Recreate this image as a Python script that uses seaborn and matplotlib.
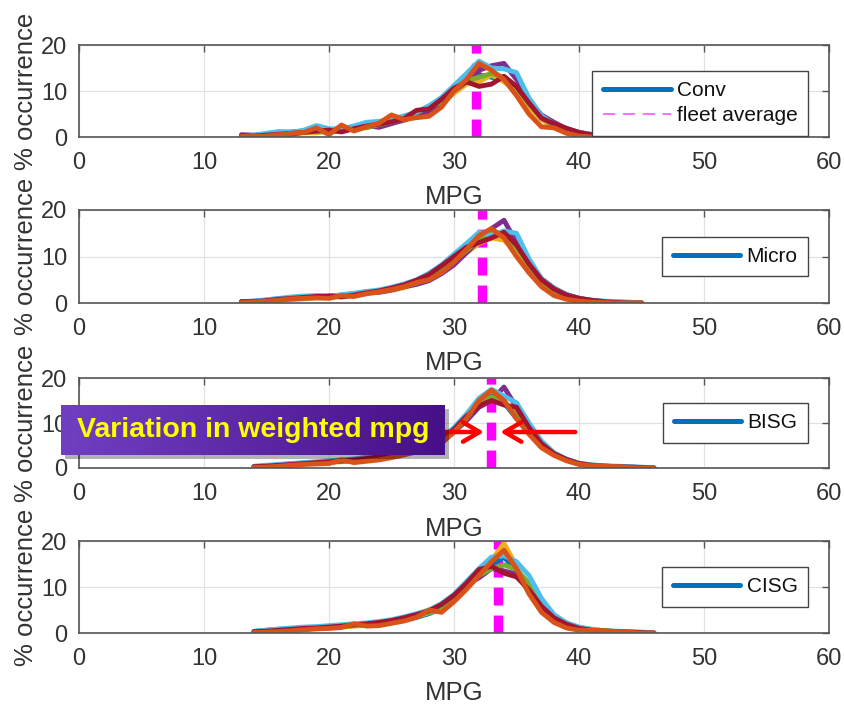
import numpy as np
import pandas as pd
import matplotlib
matplotlib.use('Agg')
import matplotlib.pyplot as plt
import seaborn as sns
from matplotlib.lines import Line2D
from matplotlib.patches import Rectangle

sns.set_style('white')
plt.rcParams['font.family'] = ['Liberation Sans', 'DejaVu Sans']

# ---------------- data ----------------
mpg_a = list(range(13, 46))   # panels 1-2
mpg_b = list(range(14, 47))   # panels 3-4

conv_runs = {
    'blue':    [0.2,0.3,0.6,1.0,1.1,1.3,1.6,1.5,1.9,2.2,2.8,2.6,3.2,4.0,4.8,6.0,7.8,10.5,12.5,13.5,13.0,12.5,10.5,7.0,4.2,2.6,1.5,0.8,0.4,0.2,0.1,0.0,0.0],
    'orange':  [0.1,0.1,0.2,0.5,0.8,1.0,2.0,0.5,2.6,1.3,2.2,3.0,4.8,3.8,4.2,4.5,6.5,10.0,12.5,16.0,14.5,12.5,9.0,5.0,2.2,2.0,0.8,0.2,0.0,0.0,0.0,0.0,0.0],
    'yellow':  [0.1,0.2,0.3,0.6,0.5,0.9,0.9,1.3,1.5,1.7,2.2,2.5,3.1,3.6,4.6,5.4,7.2,9.5,11.5,12.0,13.5,12.0,10.0,6.5,3.8,2.0,1.0,0.5,0.2,0.1,0.0,0.0,0.0],
    'purple':  [0.5,0.4,0.5,0.8,0.6,1.1,1.4,1.1,1.5,2.0,2.5,2.1,2.9,3.7,4.5,5.6,7.4,10.0,12.0,14.5,15.5,16.0,12.5,8.0,4.8,3.2,1.8,1.0,0.5,0.3,0.1,0.0,0.0],
    'green':   [0.2,0.3,0.4,0.7,0.9,1.1,1.3,1.0,1.6,2.0,2.0,2.7,3.3,4.0,5.3,6.6,7.6,10.2,12.2,13.0,13.8,13.0,10.8,7.2,4.3,2.4,1.3,0.6,0.3,0.3,0.1,0.0,0.0],
    'cyan':    [0.1,0.4,0.8,1.2,1.0,1.5,2.5,1.8,1.7,2.4,3.2,3.4,3.8,4.6,5.4,6.8,8.6,11.2,13.8,16.5,15.0,14.8,14.0,8.5,4.6,2.8,1.7,1.0,0.6,0.3,0.2,0.1,0.0],
    'darkred': [0.3,0.2,0.4,0.6,0.8,1.0,1.3,1.5,1.1,1.8,2.4,2.8,3.3,4.0,5.8,6.1,8.2,10.6,12.0,11.0,11.5,13.2,11.0,7.4,4.1,2.9,1.9,1.0,0.5,0.2,0.1,0.0,0.0],
}
micro_runs = {
    'blue':    [0.2,0.3,0.5,0.8,1.0,1.2,1.3,1.5,1.6,1.9,2.2,2.5,3.0,3.6,4.4,5.4,7.0,9.0,11.5,14.0,15.0,14.5,12.0,8.5,5.2,3.2,1.8,1.0,0.5,0.3,0.2,0.1,0.0],
    'orange':  [0.1,0.2,0.4,0.6,0.9,1.0,1.1,1.0,1.6,1.4,2.0,2.4,2.9,3.5,4.4,5.0,6.5,8.8,11.5,14.5,16.0,14.0,10.0,6.5,3.5,1.6,0.8,0.4,0.2,0.1,0.0,0.0,0.0],
    'yellow':  [0.1,0.2,0.3,0.5,0.7,0.9,1.1,1.2,1.4,1.6,2.0,2.3,2.7,3.3,4.1,5.2,6.8,8.7,10.8,12.8,14.0,13.5,11.0,7.5,4.3,2.4,1.2,0.6,0.3,0.1,0.0,0.0,0.0],
    'purple':  [0.3,0.4,0.6,0.9,1.1,1.3,1.5,1.4,1.7,2.0,2.4,2.3,2.8,3.5,4.0,4.8,6.3,8.2,10.8,13.5,16.0,17.8,13.0,8.8,5.2,3.1,1.8,1.0,0.5,0.3,0.1,0.0,0.0],
    'green':   [0.2,0.3,0.5,0.7,0.9,1.1,1.2,1.4,1.5,1.8,2.1,2.5,3.0,3.6,4.3,5.5,7.0,9.1,11.3,13.6,15.2,14.6,12.0,8.2,4.8,2.8,1.5,0.8,0.4,0.2,0.1,0.0,0.0],
    'cyan':    [0.2,0.4,0.7,1.0,1.3,1.5,1.6,1.4,1.8,2.1,2.5,2.8,3.4,4.1,5.0,6.4,8.2,10.5,12.8,15.2,14.5,15.5,15.0,9.5,5.2,3.1,1.8,1.0,0.6,0.4,0.3,0.2,0.0],
    'darkred': [0.3,0.3,0.5,0.8,1.0,1.2,1.4,1.5,1.3,1.7,2.2,2.6,3.2,3.9,4.9,6.1,8.0,10.0,12.0,13.0,14.0,15.2,12.5,8.4,5.0,3.0,1.7,1.0,0.6,0.3,0.1,0.0,0.0],
}
bisg_runs = {
    'blue':    [0.3,0.5,0.7,0.9,1.1,1.2,1.4,1.6,1.8,2.1,2.5,3.0,3.6,4.3,5.0,6.0,8.5,11.5,14.5,16.0,14.5,11.0,7.8,4.8,3.0,1.8,0.9,0.6,0.4,0.3,0.2,0.1,0.0],
    'orange':  [0.1,0.2,0.4,0.6,0.8,0.9,1.0,1.8,1.2,1.5,1.8,2.3,2.9,3.6,4.5,5.5,8.0,11.0,15.0,17.3,15.0,11.0,7.5,4.5,2.8,1.6,0.8,0.5,0.4,0.3,0.1,0.0,0.0],
    'yellow':  [0.2,0.3,0.5,0.7,0.9,1.0,1.2,1.4,1.6,1.9,2.3,2.8,3.4,4.1,4.8,5.6,8.2,10.8,13.8,15.5,14.8,11.8,8.2,5.0,3.0,1.8,0.9,0.5,0.4,0.3,0.2,0.1,0.0],
    'purple':  [0.3,0.4,0.6,0.8,1.0,1.2,1.3,1.5,1.7,2.0,2.4,2.9,3.5,4.2,5.0,5.8,8.0,10.5,13.5,15.0,18.0,13.5,8.6,5.2,3.1,1.9,1.0,0.6,0.4,0.3,0.2,0.1,0.0],
    'green':   [0.2,0.3,0.5,0.7,0.9,1.1,1.3,1.5,1.7,2.0,2.4,2.9,3.5,4.2,5.0,5.9,8.3,11.2,14.2,15.8,14.8,11.5,8.0,4.9,2.9,1.8,0.9,0.6,0.4,0.3,0.2,0.1,0.0],
    'cyan':    [0.4,0.6,0.8,1.0,1.2,1.4,1.6,1.8,2.0,2.4,2.8,3.3,4.0,4.8,5.5,6.6,9.0,12.0,15.5,17.5,16.0,14.5,10.0,6.0,3.4,2.0,1.1,0.7,0.5,0.4,0.3,0.2,0.0],
    'darkred': [0.3,0.4,0.6,0.8,1.0,1.2,1.4,1.6,1.8,2.1,2.5,3.0,3.7,4.4,5.2,6.2,8.6,11.5,13.8,15.0,14.0,13.5,9.0,5.4,3.2,1.9,1.0,0.6,0.4,0.3,0.2,0.1,0.0],
}
cisg_runs = {
    'blue':    [0.3,0.6,0.8,0.9,1.0,1.2,1.3,1.5,1.7,1.9,2.1,2.4,2.8,3.4,4.2,5.4,7.2,9.8,12.5,15.0,16.5,13.5,8.8,5.2,3.2,1.8,1.0,0.7,0.4,0.3,0.2,0.1,0.0],
    'orange':  [0.1,0.2,0.3,0.5,0.7,0.9,1.0,1.2,2.0,1.5,1.6,2.1,2.6,3.4,5.0,4.5,6.8,9.5,12.5,15.5,18.0,14.0,8.5,4.5,2.3,1.1,0.6,0.6,0.5,0.3,0.1,0.0,0.0],
    'yellow':  [0.2,0.3,0.5,0.7,0.8,1.0,1.1,1.3,1.5,1.7,2.0,2.4,2.9,3.6,4.4,5.6,7.6,10.2,13.0,15.8,19.5,14.5,9.2,5.4,3.1,1.6,0.9,0.5,0.3,0.2,0.1,0.0,0.0],
    'purple':  [0.3,0.4,0.6,0.8,0.9,1.1,1.3,1.5,1.7,1.9,2.2,2.6,3.1,3.9,4.6,5.9,7.8,10.5,12.0,14.0,13.5,12.8,9.0,5.6,3.4,2.0,1.1,0.6,0.4,0.2,0.1,0.0,0.0],
    'green':   [0.2,0.3,0.5,0.7,0.9,1.0,1.2,1.4,1.6,1.8,2.1,2.5,3.0,3.8,4.5,5.8,7.6,11.0,12.5,14.0,14.8,13.8,10.8,6.8,3.8,2.2,1.2,0.8,0.5,0.3,0.1,0.0,0.0],
    'cyan':    [0.4,0.6,0.9,1.1,1.3,1.4,1.6,1.8,2.0,2.2,2.5,2.9,3.5,4.2,5.0,6.4,8.4,11.2,14.0,16.5,16.8,15.5,12.5,7.5,4.0,2.2,1.3,0.8,0.5,0.4,0.3,0.2,0.0],
    'darkred': [0.3,0.4,0.6,0.8,1.0,1.1,1.3,1.5,1.8,2.0,2.3,2.7,3.3,4.0,4.8,6.2,8.2,10.8,13.8,14.5,13.0,12.2,9.4,5.8,3.3,1.9,1.0,0.6,0.4,0.3,0.2,0.1,0.0],
}

panel_labels = ['Conv', 'Micro', 'BISG', 'CISG']
fleet_avg = [31.8, 32.2, 33.0, 33.5]
annotation_text = 'Variation in weighted mpg'
x_ticks = [0, 10, 20, 30, 40, 50, 60]
y_ticks = [0, 10, 20]

panels = [(mpg_a, conv_runs), (mpg_a, micro_runs), (mpg_b, bisg_runs), (mpg_b, cisg_runs)]

palette = {'blue': '#0072BD', 'orange': '#D95319', 'yellow': '#EDB120',
           'purple': '#7E2F8E', 'green': '#77AC30', 'cyan': '#4DBEEE',
           'darkred': '#A2142F'}
draw_order = ['blue', 'yellow', 'purple', 'green', 'cyan', 'darkred', 'orange']

# ---------------- figure ----------------
W, H = 845, 704
fig = plt.figure(figsize=(W / 100, H / 100), dpi=100)

ax_px = [(45, 137), (210, 303), (378, 468), (541, 633)]
x0, x1 = 79, 829
text_col = '#333333'
axes = []
for i, ((top, bot), (mpg, runs)) in enumerate(zip(ax_px, panels)):
    ax = fig.add_axes([x0 / W, 1 - bot / H, (x1 - x0) / W, (bot - top) / H])
    axes.append(ax)
    df = pd.DataFrame([(m, v, name) for name, vals in runs.items()
                       for m, v in zip(mpg, vals)], columns=['MPG', 'pct', 'run'])
    # fleet average line (below curves)
    ax.plot([fleet_avg[i], fleet_avg[i]], [0, 20], color='#FF00FF', lw=6.8,
            linestyle=(0, (1.9, 1.06)), zorder=1.5, solid_capstyle='butt',
            dash_capstyle='butt')
    sns.lineplot(data=df, x='MPG', y='pct', hue='run', hue_order=draw_order,
                 palette=palette, legend=False, lw=3.5, ax=ax,
                 estimator=None, sort=False, zorder=2)
    ax.set_xlim(0, 60)
    ax.set_ylim(0, 20)
    ax.set_xticks(x_ticks)
    ax.set_yticks(y_ticks)
    ax.grid(True, color='#E2E2E2', lw=0.9)
    ax.set_axisbelow(True)
    for sp in ax.spines.values():
        sp.set_color('#555555')
        sp.set_linewidth(1.2)
    ax.tick_params(axis='both', direction='in', length=5, width=1.0,
                   color='#555555', labelsize=17, labelcolor=text_col,
                   top=True, right=True)
    ax.tick_params(axis='x', pad=10.5)
    ax.tick_params(axis='y', pad=8.6)
    ax.set_xlabel('MPG', fontsize=18.5, color=text_col)
    ax.xaxis.label.set_va('center')
    ax.xaxis.set_label_coords(0.5, -60.5 / (bot - top))
    ax.set_ylabel('% occurrence', fontsize=18.5, color=text_col)
    ax.yaxis.set_label_coords((38 - x0) / (x1 - x0), 0.5)

    handles = [Line2D([], [], color=palette['blue'], lw=3.6)]
    labels = [panel_labels[i]]
    if i == 0:
        handles.append(Line2D([], [], color='#FF44FF', lw=1.1,
                              linestyle=(0, (8, 5))))
        labels.append('fleet average')
        loc, anchor = 'lower right', (0.972, 0.012)
    else:
        loc, anchor = 'center right', (0.972, 0.5)
    leg = ax.legend(handles, labels, loc=loc, bbox_to_anchor=anchor,
                    frameon=True, fancybox=False, framealpha=1,
                    edgecolor='#444444', fontsize=15, handlelength=3.25,
                    handletextpad=0.3, borderpad=0.5, borderaxespad=0,
                    labelspacing=0.3)
    leg.get_frame().set_linewidth(1.0)
    for t in leg.get_texts():
        t.set_color('#111111')
    leg.set_zorder(10)

# red arrows in the BISG panel
ax3 = axes[2]
arrow_y = 8.0
ax3.annotate('', xy=(32.4, arrow_y), xytext=(28.5, arrow_y),
             arrowprops=dict(arrowstyle='->,head_length=0.6,head_width=0.35',
                             color='#FF0000', lw=3.2, shrinkA=0, shrinkB=0,
                             mutation_scale=20), zorder=6)
ax3.annotate('', xy=(33.7, arrow_y), xytext=(39.7, arrow_y),
             arrowprops=dict(arrowstyle='->,head_length=0.6,head_width=0.35',
                             color='#FF0000', lw=3.2, shrinkA=0, shrinkB=0,
                             mutation_scale=20), zorder=6)

# annotation box with gradient
bx0, by0, bx1, by1 = 61, 405, 445, 455
shadow = Rectangle(((bx0 + 4) / W, 1 - (by1 + 4) / H), (bx1 - bx0) / W,
                   (by1 - by0) / H, transform=fig.transFigure,
                   facecolor='#000000', alpha=0.3, zorder=4, edgecolor='none')
fig.patches.append(shadow)
bax = fig.add_axes([bx0 / W, 1 - by1 / H, (bx1 - bx0) / W, (by1 - by0) / H])
bax.set_zorder(5)
c_left = np.array([0.44, 0.25, 0.76])
c_right = np.array([0.28, 0.06, 0.53])
t = np.linspace(0, 1, 256)[None, :, None]
grad = c_left[None, None, :] * (1 - t) + c_right[None, None, :] * t
bax.imshow(grad, aspect='auto', extent=(0, 1, 0, 1))
bax.set_axis_off()
bax.text(0.5, 0.5, annotation_text, color='#FFFF00', fontsize=20.5,
         fontweight='bold', ha='center', va='center', transform=bax.transAxes)

fig.savefig('out.png', dpi=100)
